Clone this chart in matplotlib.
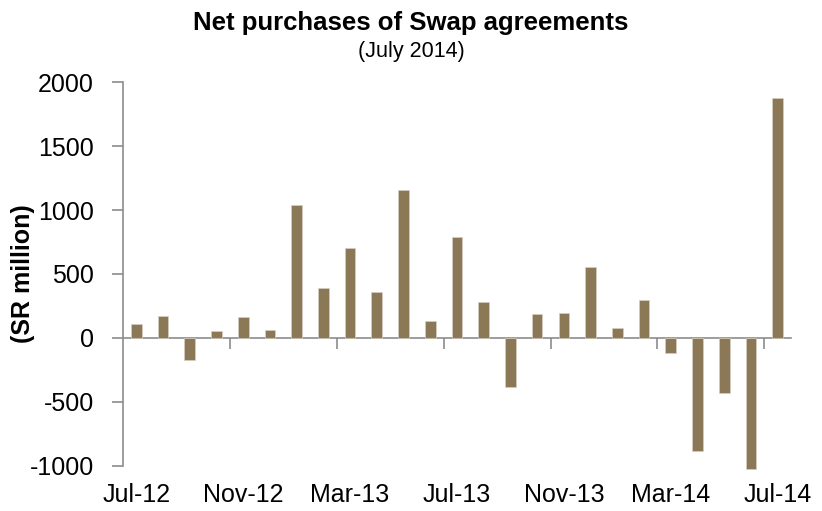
import numpy as np
import pandas as pd
import matplotlib
matplotlib.use("Agg")
from matplotlib import pyplot as plt

# %% data
months = pd.date_range("2012-07-01", periods=25, freq="MS").strftime("%b-%y").tolist()
net_purchases = [112, 172, -172, 55, 161, 65, 1040, 390, 702, 356, 1154, 135, 790,
                 279, -386, 188, 196, 553, 79, 296, -115, -882, -432, -1020, 1877]
yticks = [-1000, -500, 0, 500, 1000, 1500, 2000]

# %% plotting
plt.rcParams["font.family"] = ["Liberation Sans", "DejaVu Sans"]
bar_color = "#8B7856"
axis_color = "#8c8c8c"

fig = plt.figure(figsize=(8.22, 5.11), dpi=100)
ax = fig.add_axes([0.1496, 0.0881, 0.8127, 0.7514])

x = np.arange(len(months))
ax.bar(x, net_purchases, width=0.4, color=bar_color, edgecolor="#d8cfc0",
       linewidth=0.5, clip_on=False, zorder=2)

ax.set_xlim(-0.5, len(months) - 0.5)
ax.set_ylim(yticks[0], yticks[-1])
ax.set_yticks(yticks)
ax.set_yticklabels([str(v) for v in yticks])

for s in ["top", "right", "bottom"]:
    ax.spines[s].set_visible(False)
ax.spines["left"].set_color(axis_color)
ax.spines["left"].set_linewidth(1.2)
ax.tick_params(axis="y", direction="out", length=8, width=1.2, color=axis_color,
               labelsize=18, pad=13)

# month labels sit under the plot area, every 4th month
ax.set_xticks(x[::4])
ax.set_xticklabels(months[::4])
ax.tick_params(axis="x", length=0, labelsize=18, pad=12)

# category axis drawn on the zero line, ticks between categories
zero_frac = (0 - yticks[0]) / (yticks[-1] - yticks[0])
zax = ax.secondary_xaxis(zero_frac)
zax.spines["bottom"].set_color(axis_color)
zax.spines["bottom"].set_linewidth(1.2)
zax.set_xticks(np.arange(3.5, len(months) - 0.5, 4))
zax.set_xticklabels([])
zax.tick_params(axis="x", direction="out", length=8, width=1.2, color=axis_color)

ax.set_ylabel("(SR million)", fontsize=18, fontweight="bold")
ax.yaxis.set_label_coords(-0.132, 0.5)

fig.text(0.5, 0.955, "Net purchases of Swap agreements", ha="center", va="center",
         fontsize=18.5, fontweight="bold")
fig.text(0.5, 0.9, "(July 2014)", ha="center", va="center", fontsize=15.5)

plt.savefig("out.png", dpi=100)
